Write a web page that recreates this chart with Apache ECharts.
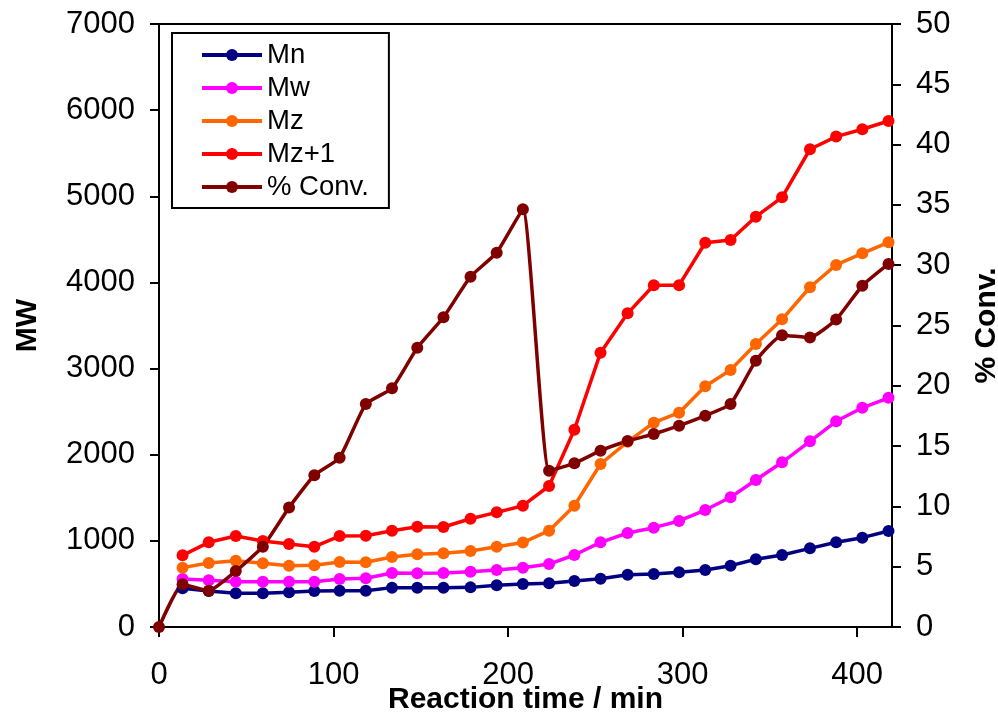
<!DOCTYPE html>
<html>
<head>
<meta charset="utf-8">
<title>Molecular weight and conversion vs reaction time</title>
<script src="https://cdn.jsdelivr.net/npm/echarts@6/dist/echarts.min.js"></script>
<style>
  html, body { margin: 0; padding: 0; background: #fff; }
  #chart { width: 998px; height: 714px; }
</style>
</head>
<body>
<div id="chart"></div>
<script>
// Sampling times (min) for the GPC averages
const times = [13.5, 28.5, 44, 59.5, 74.5, 89, 103.5, 118.5, 133.5, 148, 163, 178.5, 193.5,
  208.5, 223.5, 238, 253, 268.5, 283.5, 298, 313, 327.5, 342, 357, 373, 388, 403, 418];

// Molecular weight averages
const mn = [449, 418, 391, 391, 403, 418, 422, 422, 457, 457, 457, 460, 484,
  500, 507, 534, 561, 607, 615, 635, 662, 712, 786, 836, 913, 983, 1037, 1114];
const mw = [557, 542, 526, 526, 526, 526, 557, 565, 627, 623, 627, 642, 662,
  689, 731, 836, 983, 1091, 1153, 1231, 1358, 1506, 1707, 1912, 2156, 2388, 2545, 2660];
const mz = [689, 743, 770, 739, 712, 716, 755, 751, 813, 844, 855, 882, 932,
  980, 1118, 1408, 1892, 2150, 2372, 2488, 2795, 2984, 3285, 3572, 3944, 4203, 4338, 4466];
const mz1 = [832, 983, 1056, 998, 963, 932, 1056, 1060, 1118, 1164, 1161, 1257, 1331,
  1408, 1637, 2290, 3185, 3641, 3968, 3968, 4461, 4493, 4763, 4988, 5546, 5693, 5778, 5874];

// Conversion (%), including the starting point at t = 0
const convTimes = [0].concat(times);
const conv = [0, 3.54, 3.0, 4.64, 6.66, 9.9, 12.58, 14.04, 18.49, 19.79, 23.16, 25.68, 29.05, 31.04,
  34.64, 12.96, 13.57, 14.62, 15.42, 16.0, 16.69, 17.52, 18.5, 22.08, 24.2, 24.0, 25.5, 28.3, 30.1];

// Axis tick values
const xTicks = [0, 100, 200, 300, 400];
const mwTicks = [0, 1000, 2000, 3000, 4000, 5000, 6000, 7000];
const convTicks = [0, 5, 10, 15, 20, 25, 30, 35, 40, 45, 50];

const names = ['Mn', 'Mw', 'Mz', 'Mz+1', '% Conv.'];
const colors = ['#000080', '#FF00FF', '#FF6600', '#FF0000', '#800000'];

const FONT = 'Liberation Sans, Arial, Helvetica, sans-serif';
const pair = (xs, ys) => xs.map((x, i) => [x, ys[i]]);
const plain = v => String(v);

function lineSeries(name, color, data, yAxisIndex, smooth) {
  return {
    name: name,
    type: 'line',
    yAxisIndex: yAxisIndex,
    data: data,
    smooth: smooth,
    symbol: 'circle',
    symbolSize: 12,
    clip: false,
    lineStyle: { color: color, width: 3.5 },
    itemStyle: { color: color },
    emphasis: { disabled: true }
  };
}

const axisCommon = {
  axisLine: { show: true, lineStyle: { color: '#000', width: 2 } },
  axisTick: { show: true, inside: false, length: 9, lineStyle: { color: '#000', width: 2 } },
  splitLine: { show: false },
  nameMoveOverlap: false,
  nameTextStyle: { fontFamily: FONT, fontSize: 30, fontWeight: 'bold', color: '#000' }
};
const tickFont = { fontFamily: FONT, fontSize: 31, color: '#000' };

const chart = echarts.init(document.getElementById('chart'), null, { renderer: 'canvas' });

chart.setOption({
  backgroundColor: '#fff',
  animation: false,
  color: colors,
  grid: {
    left: 159, right: 106, top: 24, bottom: 87,
    containLabel: false,
    outerBoundsMode: 'none',
    show: true, borderColor: '#000', borderWidth: 2, backgroundColor: 'transparent'
  },
  legend: {
    data: names,
    orient: 'vertical',
    left: 172, top: 33,
    padding: [8, 20, 7, 28],
    itemWidth: 60, itemHeight: 15, itemGap: 5,
    borderColor: '#000', borderWidth: 2,
    backgroundColor: '#fff',
    lineStyle: { width: 4 },
    textStyle: { fontFamily: FONT, fontSize: 27.5, color: '#000' }
  },
  xAxis: Object.assign({}, axisCommon, {
    type: 'value',
    min: 0, max: 420, interval: 100,
    name: 'Reaction time / min',
    nameLocation: 'middle',
    nameGap: 58,
    axisTick: Object.assign({}, axisCommon.axisTick, { length: 10, customValues: xTicks }),
    axisLabel: Object.assign({}, tickFont, {
      customValues: xTicks,
      margin: 33,
      formatter: v => (xTicks.indexOf(v) >= 0 ? String(v) : '')
    })
  }),
  yAxis: [
    Object.assign({}, axisCommon, {
      type: 'value',
      position: 'left',
      min: mwTicks[0], max: mwTicks[mwTicks.length - 1], interval: 1000,
      name: 'MW',
      nameLocation: 'middle',
      nameRotate: 90,
      nameGap: 116,
      axisLabel: Object.assign({}, tickFont, { margin: 24, formatter: plain })
    }),
    Object.assign({}, axisCommon, {
      type: 'value',
      position: 'right',
      min: convTicks[0], max: convTicks[convTicks.length - 1], interval: 5,
      name: '% Conv.',
      nameLocation: 'middle',
      nameRotate: 90,
      nameGap: 80,
      axisLabel: Object.assign({}, tickFont, { margin: 24, formatter: plain })
    })
  ],
  series: [
    lineSeries(names[0], colors[0], pair(times, mn), 0, false),
    lineSeries(names[1], colors[1], pair(times, mw), 0, false),
    lineSeries(names[2], colors[2], pair(times, mz), 0, false),
    lineSeries(names[3], colors[3], pair(times, mz1), 0, false),
    lineSeries(names[4], colors[4], pair(convTimes, conv), 1, 0.15)
  ]
});
</script>
</body>
</html>
